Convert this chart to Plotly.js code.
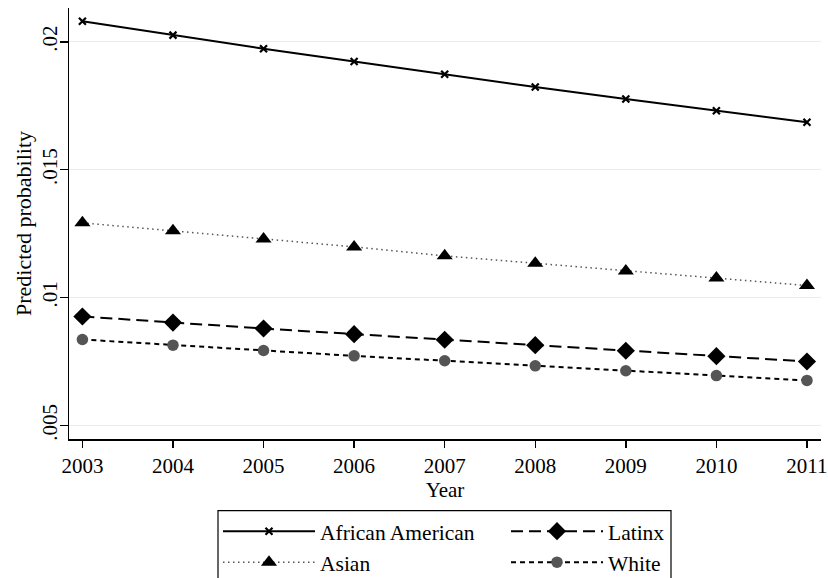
<!DOCTYPE html>
<html>
<head>
<meta charset="utf-8">
<script src="https://cdn.plot.ly/plotly-3.0.1.min.js"></script>
<style>html,body{margin:0;padding:0;background:#fff;}#chart{width:828px;height:578px;}</style>
</head>
<body>
<div id="chart"></div>
<script>
const years = [2003, 2004, 2005, 2006, 2007, 2008, 2009, 2010, 2011];
const yTickVals = [0.005, 0.01, 0.015, 0.02];
const yTickText = [".005", ".01", ".015", ".02"];
const africanAmerican = [0.02080, 0.02026, 0.01973, 0.01923, 0.01873, 0.01823, 0.01776, 0.01730, 0.01685];
const asian = [0.01292, 0.01261, 0.01229, 0.01198, 0.01163, 0.01134, 0.01104, 0.01076, 0.01047];
const latinx = [0.00926, 0.00902, 0.00879, 0.00857, 0.00835, 0.00814, 0.00792, 0.00771, 0.00750];
const white = [0.00836, 0.00814, 0.00793, 0.00772, 0.00753, 0.00733, 0.00714, 0.00695, 0.00676];

const font = '"Liberation Serif", "Times New Roman", serif';

const traces = [
  {x: years, y: africanAmerican, name: "African American", mode: "lines+markers",
   line: {color: "#000", width: 2}, marker: {symbol: "x-thin", size: 7, line: {color: "#000", width: 2.2}, color: "#000"}},
  {x: years, y: latinx, name: "Latinx", mode: "lines+markers",
   line: {color: "#000", width: 2, dash: "12px,6px"}, marker: {symbol: "diamond", size: 14, color: "#000"}},
  {x: years, y: asian, name: "Asian", mode: "lines+markers",
   line: {color: "#555", width: 1.5, dash: "1.5px,3.5px"}, marker: {symbol: "triangle-up", size: 14, color: "#000"}},
  {x: years, y: white, name: "White", mode: "lines+markers",
   line: {color: "#000", width: 2, dash: "5px,4px"}, marker: {symbol: "circle", size: 11.5, color: "#555"}}
];

// plot area: left 69, right 821, top 8, bottom 439 (px)
const plotL = 69, plotW = 752, plotB = 439, plotH = 431;
const legendFrame = {
  type: "rect", xref: "paper", yref: "paper",
  x0: (218 - plotL) / plotW, x1: (671 - plotL) / plotW,
  y0: (plotB - 510.7) / plotH, y1: (plotB - 585) / plotH,
  line: {color: "#000", width: 1.2}, fillcolor: "rgba(0,0,0,0)", layer: "above"
};

const layout = {
  width: 828, height: 578,
  margin: {l: 69, r: 7, t: 8, b: 139},
  paper_bgcolor: "#fff", plot_bgcolor: "#fff",
  font: {family: font, size: 20, color: "#000"},
  showlegend: true,
  shapes: [legendFrame],
  xaxis: {
    range: [2002.852, 2011.155],
    tickvals: years, ticktext: years.map(String),
    showgrid: false, zeroline: false,
    showline: true, linecolor: "#000", linewidth: 1.5,
    ticks: "outside", ticklen: 7, tickcolor: "#000", tickwidth: 1.5,
    tickfont: {family: font, size: 21, color: "#000"},
    title: {text: "Year", font: {family: font, size: 21, color: "#000"}, standoff: 2},
    automargin: false, fixedrange: true
  },
  yaxis: {
    range: [0.00447, 0.02132],
    tickvals: yTickVals, ticktext: yTickText, tickangle: -90,
    ticklabelstandoff: -6,
    showgrid: true, gridcolor: "#ececec", gridwidth: 1.2,
    zeroline: false,
    showline: true, linecolor: "#000", linewidth: 1.5,
    ticks: "outside", ticklen: 8, tickcolor: "#000", tickwidth: 1.5,
    tickfont: {family: font, size: 21, color: "#000"},
    title: {text: "Predicted probability", font: {family: font, size: 22, color: "#000"}, standoff: 0},
    automargin: false, fixedrange: true
  },
  legend: {
    orientation: "h",
    xref: "container", yref: "container",
    x: 218 / 828, xanchor: "left",
    y: 1 - 510.7 / 578, yanchor: "top",
    borderwidth: 0, bgcolor: "rgba(0,0,0,0)",
    font: {family: font, size: 21.5, color: "#000"},
    itemwidth: 92,
    entrywidth: 181, entrywidthmode: "pixels",
    traceorder: "normal"
  }
};

Plotly.newPlot("chart", traces, layout, {staticPlot: true, displayModeBar: false});
</script>
</body>
</html>
